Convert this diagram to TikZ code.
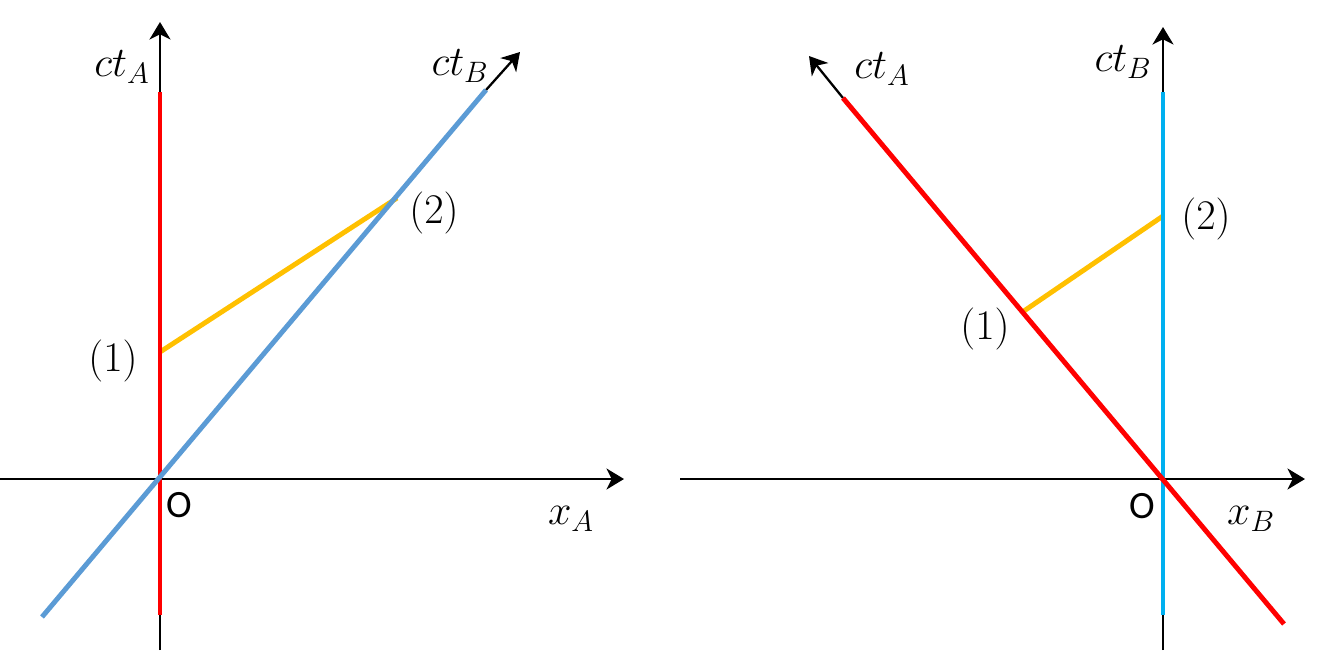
\documentclass[tikz,border=0pt]{standalone}
\usepackage{fix-cm}
\usepackage{fontspec}
\newfontfamily\ofont{Carlito}
\usetikzlibrary{arrows.meta}
\definecolor{wlred}{HTML}{FF0000}
\definecolor{wlblue}{HTML}{5B9BD5}
\definecolor{wlcyan}{HTML}{00B0F0}
\definecolor{wlgold}{HTML}{FFC000}
\begin{document}
\begin{tikzpicture}
[x=0.02cm, y=-0.02cm,
 axis/.style={line width=1.3pt, -{Stealth[length=10pt,width=12pt,inset=3pt]}},
 world/.style={line width=2.8pt},
 lbl/.style={font=\fontsize{24}{28}\selectfont},
 olbl/.style={font=\ofont\fontsize{22}{26}\selectfont}]

\useasboundingbox (0,0) rectangle (1326,650);
%________________________________________________%
% left: frame A
\coordinate (OA) at (160,479);
\coordinate (xAs) at (0,479);
\coordinate (xAe) at (624,479);
\coordinate (tAs) at (160,650);
\coordinate (tAe) at (160,22);
\coordinate (redAtop) at (160,92);
\coordinate (redAbot) at (160,615);
\coordinate (blueAs) at (42,617);
\coordinate (blueAe) at (486,90);
\coordinate (blueAtip) at (520,52);
\coordinate (evA1) at (160,352);
\coordinate (evA2) at (397,198);

\draw[axis] (xAs) -- (xAe);
\draw[axis] (tAs) -- (tAe);
\draw[axis] (blueAe) -- (blueAtip);
\draw[world, wlgold] (evA1) -- (evA2);
\draw[world, wlred] (redAbot) -- (redAtop);
\draw[world, wlblue] (blueAs) -- (blueAe);

\node[lbl] (ctAleft) at (122,67) {$ct_A$};
\node[lbl] (ctBleft) at (460,66) {$ct_B$};
\node[lbl] (twoleft) at (434,213) {$(2)$};
\node[lbl] (oneleft) at (113,361) {$(1)$};
\node[olbl] (Oleft) at (179,505) {O};
\node[lbl] (xAlbl) at (571,519) {$x_A$};
%________________________________________________%
% right: frame B
\coordinate (OB) at (1163,479);
\coordinate (xBs) at (680,479);
\coordinate (xBe) at (1305,479);
\coordinate (tBs) at (1163,650);
\coordinate (tBe) at (1163,27);
\coordinate (cyanBtop) at (1163,92);
\coordinate (cyanBbot) at (1163,615);
\coordinate (redBs) at (1284,624);
\coordinate (redBe) at (843,98);
\coordinate (redBtip) at (809,56);
\coordinate (evB1) at (1021,313);
\coordinate (evB2) at (1163,216);

\draw[axis] (xBs) -- (xBe);
\draw[axis] (tBs) -- (tBe);
\draw[axis] (redBe) -- (redBtip);
\draw[world, wlgold] (evB1) -- (evB2);
\draw[world, wlcyan] (cyanBbot) -- (cyanBtop);
\draw[world, wlred] (redBs) -- (redBe);

\node[lbl] (ctAright) at (882,69) {$ct_A$};
\node[lbl] (ctBright) at (1123,62) {$ct_B$};
\node[lbl] (tworight) at (1206,219) {$(2)$};
\node[lbl] (oneright) at (985,329) {$(1)$};
\node[olbl] (Oright) at (1142,506) {O};
\node[lbl] (xBlbl) at (1251,519) {$x_B$};
%________________________________________________%
\end{tikzpicture}
\end{document}
